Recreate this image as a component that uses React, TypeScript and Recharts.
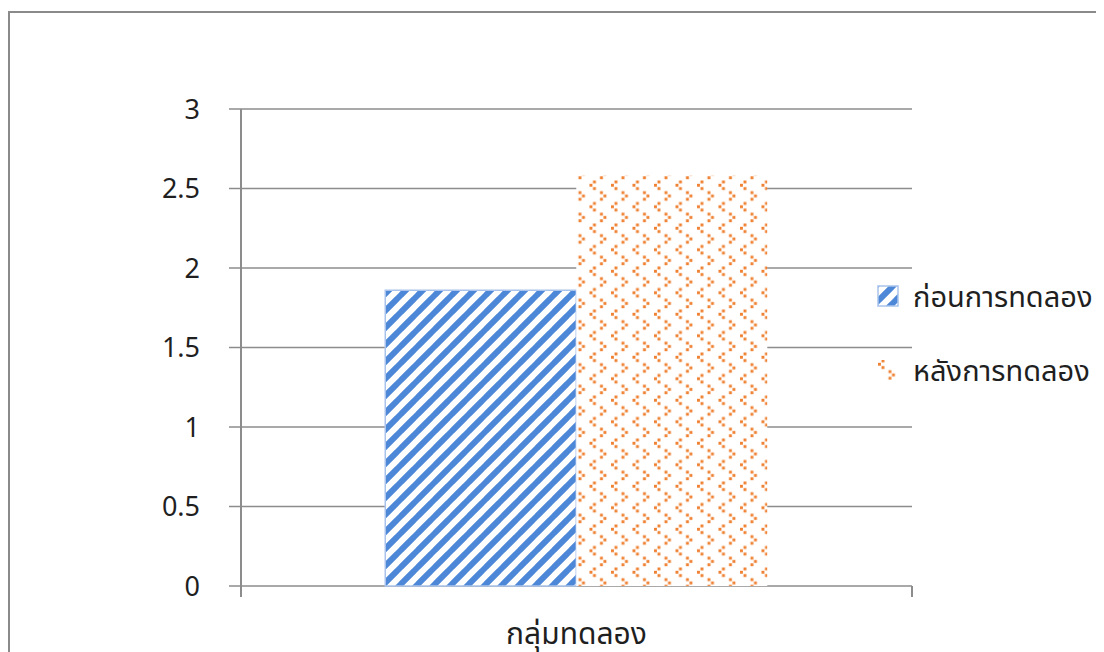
import React from "react";
import { BarChart, Bar, XAxis, YAxis, CartesianGrid, Legend } from "recharts";

// Category and series values
const categories = ["กลุ่มทดลอง"];
const beforeValues = [1.86];
const afterValues = [2.58];
const seriesNames = ["ก่อนการทดลอง", "หลังการทดลอง"];
const yTicks = [0, 0.5, 1, 1.5, 2, 2.5, 3];

const data = categories.map((name, i) => ({
  name,
  before: beforeValues[i],
  after: afterValues[i],
}));

const FONT = "'Noto Sans', 'Noto Sans Thai', 'Leelawadee UI', sans-serif";
const AXIS_GRAY = "#8c8c8c";
const TEXT = "#1f1f1f";
const BLUE = "#4d87d7";
const ORANGE = "#ef8030";

const PatternDefs = () => (
  <defs>
    <pattern id="blueStripes" patternUnits="userSpaceOnUse" width={17} height={17}>
      <rect width={17} height={17} fill="#ffffff" />
      <path
        d="M-2,2 l4,-4 M0,17 l17,-17 M15,19 l4,-4"
        stroke={BLUE}
        strokeWidth={6}
      />
    </pattern>
    <pattern id="orangeDots" patternUnits="userSpaceOnUse" width={21.5} height={21.5}>
      <rect width={21.5} height={21.5} fill="#ffffff" />
      {/* "<" chevron */}
      <rect x={4.5} y={0.5} width={2.9} height={2.9} fill={ORANGE} />
      <rect x={1} y={3.8} width={2.9} height={2.9} fill={ORANGE} />
      <rect x={4.5} y={7.1} width={2.9} height={2.9} fill={ORANGE} />
      {/* ">" chevron */}
      <rect x={11.5} y={11.2} width={2.9} height={2.9} fill={ORANGE} />
      <rect x={15} y={14.5} width={2.9} height={2.9} fill={ORANGE} />
      <rect x={11.5} y={17.8} width={2.9} height={2.9} fill={ORANGE} />
    </pattern>
  </defs>
);

// Category axis tick: label plus boundary tick marks at the band edges
const CategoryTick = (props: any) => {
  const { x, y, payload } = props;
  const half = payload && typeof payload.offset === "number" ? payload.offset : 0;
  return (
    <g>
      {half > 0 && (
        <>
          <line x1={x - half} y1={y} x2={x - half} y2={y + 11} stroke={AXIS_GRAY} strokeWidth={2} />
          <line x1={x + half} y1={y} x2={x + half} y2={y + 11} stroke={AXIS_GRAY} strokeWidth={2} />
        </>
      )}
      <text x={x} y={y + 58} textAnchor="middle" fill={TEXT} fontSize={30} fontFamily={FONT}>
        {payload.value}
      </text>
    </g>
  );
};

const LegendContent = () => (
  <div style={{ fontFamily: FONT, fontSize: 29, color: TEXT, position: "relative", height: 110 }}>
    {seriesNames.map((name, i) => (
      <div
        key={name}
        style={{ position: "absolute", left: 0, top: i * 74, display: "flex", alignItems: "center", whiteSpace: "nowrap" }}
      >
        <svg width={22} height={22} style={{ display: "block" }}>
          <rect
            x={1}
            y={1}
            width={20}
            height={20}
            fill={i === 0 ? "url(#blueStripes)" : "url(#orangeDots)"}
            stroke={i === 0 ? "#a9c3ec" : "none"}
            strokeWidth={1.5}
          />
        </svg>
        <span style={{ marginLeft: 14, lineHeight: "22px" }}>{name}</span>
      </div>
    ))}
  </div>
);

export default function App() {
  return (
    <div style={{ position: "relative", width: 1096, height: 644, overflow: "hidden", background: "#fff" }}>
      <div
        style={{
          position: "absolute",
          left: 0,
          top: 3,
          width: 1200,
          height: 800,
          border: "2px solid #8a8a8a",
          boxSizing: "border-box",
        }}
      />
      <BarChart
        width={1096}
        height={644}
        data={data}
        margin={{ top: 101, right: 192, left: 173, bottom: 16 }}
        barCategoryGap="21.5%"
        barGap={0}
      >
        <PatternDefs />
        <CartesianGrid horizontal vertical={false} stroke={AXIS_GRAY} strokeWidth={1.5} />
        <YAxis
          width={60}
          domain={[0, 3]}
          ticks={yTicks}
          interval={0}
          tickSize={12}
          tickMargin={29}
          axisLine={{ stroke: AXIS_GRAY, strokeWidth: 2 }}
          tickLine={{ stroke: AXIS_GRAY, strokeWidth: 1.5 }}
          tick={{ fill: TEXT, fontSize: 27, fontFamily: FONT }}
          tickFormatter={(v: number) => String(v)}
        />
        <XAxis
          dataKey="name"
          height={50}
          tickSize={0}
          tickMargin={0}
          tickLine={false}
          axisLine={false}
          tick={<CategoryTick />}
        />
        <Legend
          layout="vertical"
          align="center"
          verticalAlign="middle"
          wrapperStyle={{ left: 869, top: 277, width: 227 }}
          content={<LegendContent />}
        />
        <Bar
          dataKey="before"
          name={seriesNames[0]}
          fill="url(#blueStripes)"
          stroke="#a9c3ec"
          strokeWidth={1.5}
          isAnimationActive={false}
        />
        <Bar
          dataKey="after"
          name={seriesNames[1]}
          fill="url(#orangeDots)"
          isAnimationActive={false}
        />
        {/* category axis line drawn over the bars */}
        <XAxis
          xAxisId="line"
          dataKey="name"
          hide={false}
          height={0}
          tick={false}
          tickLine={false}
          axisLine={{ stroke: AXIS_GRAY, strokeWidth: 2 }}
        />
      </BarChart>
    </div>
  );
}
